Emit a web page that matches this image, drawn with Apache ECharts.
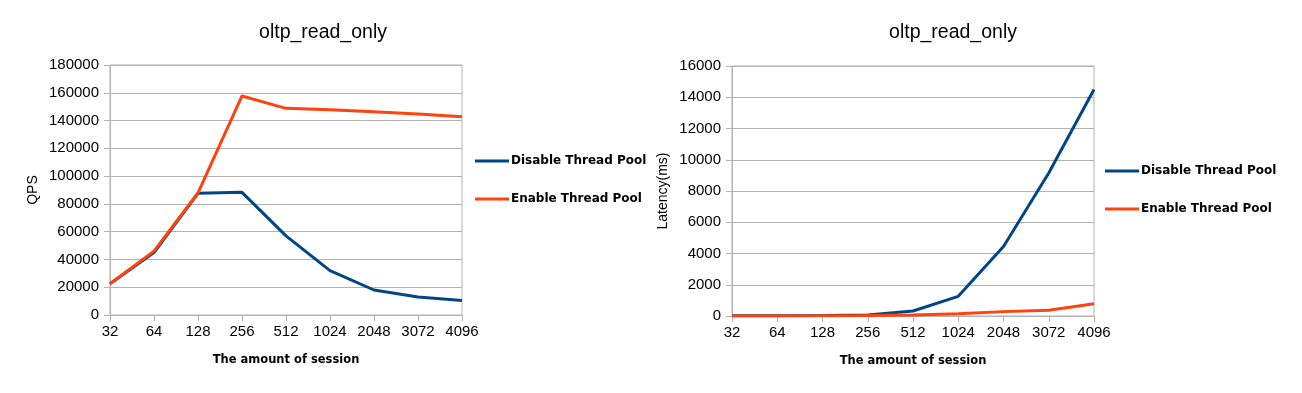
<!DOCTYPE html>
<html><head><meta charset="utf-8">
<script src="https://cdn.jsdelivr.net/npm/echarts@6/dist/echarts.min.js"></script>
<style>html,body{margin:0;padding:0;background:#fff}#c{width:1302px;height:393px}</style>
</head><body><div id="c"></div>
<script>
const categories = ['32','64','128','256','512','1024','2048','3072','4096'];
const qpsDisable = [22500, 45000, 87600, 88300, 57000, 32000, 18000, 13000, 10500];
const qpsEnable  = [22500, 46000, 88000, 157700, 148800, 147800, 146400, 144700, 142800];
const latDisable = [10, 15, 25, 70, 320, 1260, 4450, 9150, 14500];
const latEnable  = [5, 8, 12, 25, 60, 150, 280, 370, 780];
const seriesNames = ['Disable Thread Pool', 'Enable Thread Pool'];
const colors = ['#004586', '#ff420e'];
const titleText = 'oltp_read_only';

const chart = echarts.init(document.getElementById('c'), null, {renderer:'canvas'});
const gridLine = '#b3b3b3';
function xAx(gi){
  return {type:'category', gridIndex:gi, data:categories, boundaryGap:false,
    axisLine:{lineStyle:{color:gridLine}}, axisTick:{show:true,length:6,lineStyle:{color:gridLine}},
    axisLabel:{color:'#000', fontSize:15, fontFamily:'Liberation Sans', margin:9},
    name:'The amount of session', nameLocation:'middle', nameGap:39,
    nameTextStyle:{color:'#000', fontSize:11.5, fontWeight:'bold', fontFamily:'DejaVu Sans'}};
}
function yAx(gi, max, interval, name, gap){
  return {type:'value', gridIndex:gi, min:0, max:max, interval:interval,
    axisLine:{show:true,lineStyle:{color:gridLine}}, axisTick:{show:true,length:6,lineStyle:{color:gridLine}},
    splitLine:{lineStyle:{color:gridLine}},
    axisLabel:{color:'#000', fontSize:15, fontFamily:'Liberation Sans', margin:11, formatter:(v)=>String(v)},
    name:name, nameLocation:'middle', nameGap:gap, nameRotate:90,
    nameTextStyle:{color:'#000', fontSize:14, fontFamily:'Liberation Sans'}};
}
function ser(name, gi, data, ci){
  return {name:name, type:'line', xAxisIndex:gi, yAxisIndex:gi, data:data, symbol:'none',
    lineStyle:{width:3, color:colors[ci]}, itemStyle:{color:colors[ci]}, animation:false};
}
function legend(left, top){
  return {orient:'vertical', left:left, top:top, padding:0, itemWidth:34, itemHeight:3, itemGap:26,
    icon:'rect', data:seriesNames,
    textStyle:{color:'#000', fontSize:12, fontWeight:'bold', fontFamily:'DejaVu Sans', padding:[0,0,0,-3]}};
}
chart.setOption({
  animation:false,
  title:[
    {text:titleText, left:318, top:18, textAlign:'center', textStyle:{fontSize:19.5, fontWeight:'normal', color:'#000', fontFamily:'Liberation Sans'}},
    {text:titleText, left:948, top:18, textAlign:'center', textStyle:{fontSize:19.5, fontWeight:'normal', color:'#000', fontFamily:'Liberation Sans'}}
  ],
  grid:[
    {left:110, right:840, top:65, bottom:78, show:true, borderColor:gridLine, borderWidth:1},
    {left:732, right:208, top:66, bottom:77, show:true, borderColor:gridLine, borderWidth:1}
  ],
  legend:[legend(475, 155), legend(1105, 165)],
  xAxis:[xAx(0), xAx(1)],
  yAxis:[yAx(0, 180000, 20000, 'QPS', 70), yAx(1, 16000, 2000, 'Latency(ms)', 62)],
  series:[
    ser(seriesNames[0], 0, qpsDisable, 0),
    ser(seriesNames[1], 0, qpsEnable, 1),
    ser(seriesNames[0], 1, latDisable, 0),
    ser(seriesNames[1], 1, latEnable, 1)
  ]
});
</script></body></html>
